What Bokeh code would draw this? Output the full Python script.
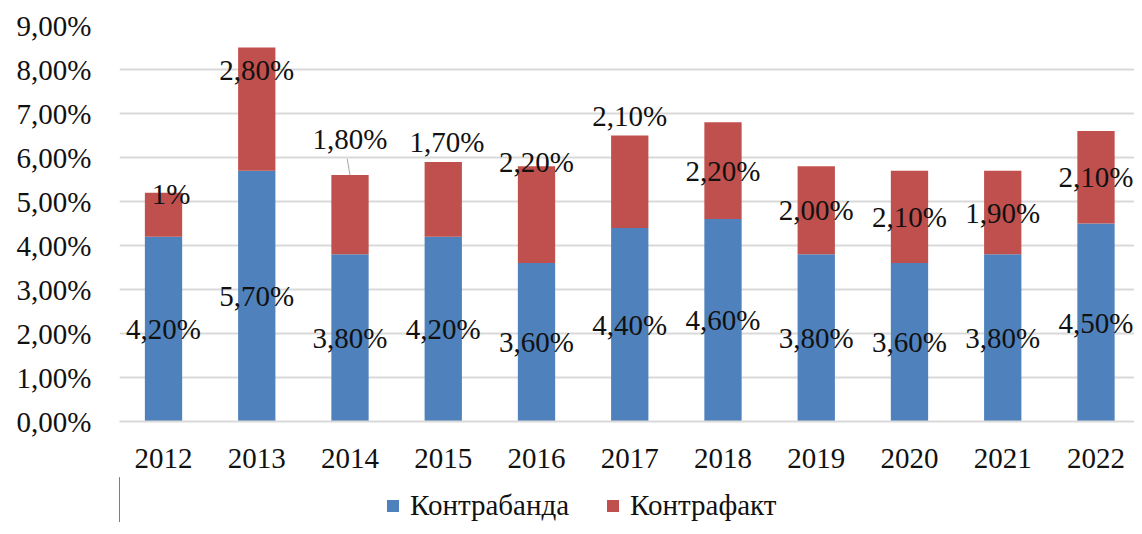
from bokeh.plotting import figure
from bokeh.models import ColumnDataSource, Range1d, FixedTicker, Legend, LegendItem
from bokeh.layouts import column
from bokeh.core.properties import value
from bokeh.embed import file_html
from bokeh.resources import INLINE

# ---- data ----
years = ["2012", "2013", "2014", "2015", "2016", "2017", "2018", "2019", "2020", "2021", "2022"]
kontrabanda = [4.2, 5.7, 3.8, 4.2, 3.6, 4.4, 4.6, 3.8, 3.6, 3.8, 4.5]
kontrafakt = [1.0, 2.8, 1.8, 1.7, 2.2, 2.1, 2.2, 2.0, 2.1, 1.9, 2.1]
kontrabanda_text = ["4,20%", "5,70%", "3,80%", "4,20%", "3,60%", "4,40%", "4,60%", "3,80%", "3,60%", "3,80%", "4,50%"]
kontrafakt_text = ["1%", "2,80%", "1,80%", "1,70%", "2,20%", "2,10%", "2,20%", "2,00%", "2,10%", "1,90%", "2,10%"]
series_names = ["Контрабанда", "Контрафакт"]
y_ticks = [0, 1, 2, 3, 4, 5, 6, 7, 8, 9]
y_tick_labels = ["0,00%", "1,00%", "2,00%", "3,00%", "4,00%", "5,00%", "6,00%", "7,00%", "8,00%", "9,00%"]

# label placement adjustments for the red series (moved labels in the original)
red_label_shift = [0.48, 0.9, 1.72, 1.3, 1.19, 1.49, 0.0, 0.0, 0.0, 0.0, 0.0]
red_label_dx = [0.08, 0.0, 0.0, 0.04, 0.0, 0.0, 0.0, 0.0, 0.0, 0.0, 0.0]

BLUE = "#4F81BD"
RED = "#C0504D"
FONT = "Liberation Serif"
FS = "29px"
TXT = "#111111"

xs = list(range(len(years)))
src = ColumnDataSource(dict(x=xs, smug=kontrabanda, cf=kontrafakt))

W = 1134
p = figure(x_range=Range1d(-0.472, 10.413), y_range=Range1d(0, 9), width=W, height=477,
           output_backend="svg", toolbar_location=None,
           min_border_left=119, min_border_right=0, min_border_top=25,
           min_border_bottom=56)
p.outline_line_color = None
p.background_fill_color = "white"
p.border_fill_color = "white"

rs = p.vbar_stack(["smug", "cf"], x="x", width=0.4, color=[BLUE, RED],
                  line_color=None, source=src)

# data labels
blue_y = [v / 2 for v in kontrabanda]
red_y = [a + b / 2 + s for a, b, s in zip(kontrabanda, kontrafakt, red_label_shift)]
red_x = [x + d for x, d in zip(xs, red_label_dx)]
p.text(x=xs, y=blue_y, text=kontrabanda_text, text_font=value(FONT),
       text_font_size=FS, text_align="center", text_baseline="middle", text_color=TXT)
p.text(x=red_x, y=red_y, text=kontrafakt_text, text_font=value(FONT),
       text_font_size=FS, text_align="center", text_baseline="middle", text_color=TXT)

# leader line for the moved 2014 label
i = 2
p.segment(x0=[xs[i]], y0=[kontrabanda[i] + kontrafakt[i]], x1=[xs[i] - 0.03],
          y1=[red_y[i] - 0.45], line_color="#a6a6a6", line_width=1)

# axes
p.yaxis.ticker = FixedTicker(ticks=y_ticks)
p.yaxis.major_label_overrides = {t: l for t, l in zip(y_ticks, y_tick_labels)}
p.yaxis.axis_line_color = None
p.yaxis.major_tick_line_color = None
p.yaxis.minor_tick_line_color = None
p.yaxis.major_label_standoff = 22
p.yaxis.major_label_text_font = FONT
p.yaxis.major_label_text_font_size = FS
p.yaxis.major_label_text_color = TXT

p.xaxis.ticker = FixedTicker(ticks=xs)
p.xaxis.major_label_overrides = {x: y for x, y in zip(xs, years)}
p.xaxis.axis_line_color = "#d9d9d9"
p.xaxis.axis_line_width = 2
p.xaxis.major_tick_line_color = None
p.xaxis.minor_tick_line_color = None
p.xaxis.major_label_standoff = 21
p.xaxis.major_label_text_font = FONT
p.xaxis.major_label_text_font_size = FS
p.xaxis.major_label_text_color = TXT

p.xgrid.grid_line_color = None
p.ygrid.grid_line_color = "#d9d9d9"
p.ygrid.grid_line_width = 2

# legend strip below the chart (its bars use the same data, kept out of view)
pl = figure(width=W, height=45, x_range=Range1d(11, 12), y_range=Range1d(0, 1),
            output_backend="svg", toolbar_location=None, min_border=0)
pl.axis.visible = False
pl.grid.visible = False
pl.outline_line_color = None
ls = pl.vbar_stack(["smug", "cf"], x="x", width=0.4, color=[BLUE, RED],
                   line_color=None, source=src)

legend = Legend(items=[LegendItem(label=series_names[0], renderers=[ls[0]]),
                       LegendItem(label=series_names[1], renderers=[ls[1]])],
                orientation="horizontal", location=(266, 0))
legend.label_text_font = FONT
legend.label_text_font_size = FS
legend.label_text_color = TXT
legend.label_height = 24
legend.glyph_width = 15
legend.glyph_height = 15
legend.label_standoff = 10
legend.spacing = 36
legend.padding = 0
legend.margin = 0
legend.border_line_color = None
legend.background_fill_alpha = 0
pl.add_layout(legend, "center")

layout = column(p, pl, spacing=0)
open("out.html", "w").write(file_html(layout, INLINE))
